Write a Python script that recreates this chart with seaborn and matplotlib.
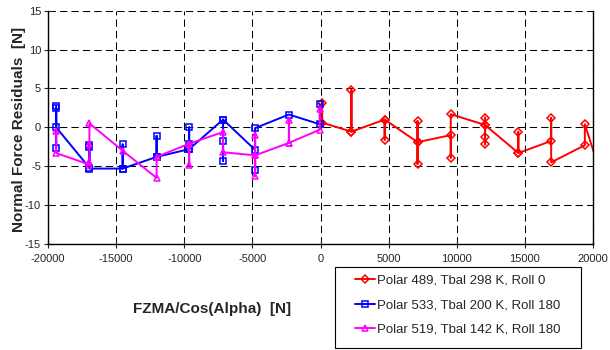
import matplotlib
matplotlib.use("Agg")
import matplotlib.pyplot as plt
import seaborn as sns
from matplotlib.patches import Rectangle

# Polar 489 (red) - points in plotting order
red_x = [125, 125,
         2270, 2270, 2270,
         4710, 4710, 4710,
         7120, 7120, 7120, 7120,
         9560, 9560, 9560,
         12080, 12080, 12080, 12080, 12080,
         14520, 14520, 14520,
         16930, 16930, 16930,
         19400, 19400,
         21850]
red_y = [3.1, 0.6,
         -0.55, 4.8, -0.55,
         1.0, -1.6, 1.0,
         -1.9, 0.8, -4.7, -1.9,
         -1.0, -3.9, 1.7,
         0.3, 1.25, -2.2, -1.3, 0.3,
         -3.3, -0.6, -3.3,
         -1.75, 1.2, -4.5,
         -2.3, 0.4,
         -13.0]

# Polar 533 (blue)
blue_x = [-19400, -19400, -19400, -19400,
          -16960, -16960, -16960, -16960,
          -14520, -14520, -14520,
          -12030, -12030, -12030,
          -9640, -9640, -9640, -9640,
          -7150, -7150, -7150, -7150,
          -4800, -4800, -4800,
          -2320,
          -50, -50]
blue_y = [2.8, -2.6, 2.5, 0.0,
          -5.2, -2.3, -2.5, -5.3,
          -5.3, -2.2, -5.3,
          -3.8, -1.1, -3.8,
          -2.8, 0.0, -2.2, -2.8,
          1.0, -1.75, -4.3, 1.0,
          -2.9, -5.5, -0.1,
          1.65,
          0.4, 3.0]

# Polar 519 (magenta)
mag_x = [-19400, -19400,
         -16960, -16960, -16960, -16960,
         -14520,
         -12030, -12030,
         -9640, -9640, -9640,
         -7150, -7150,
         -4800, -4800, -4800, -4800,
         -2320, -2320, -2320,
         -50, -50]
mag_y = [-0.5, -3.3,
         -4.8, -4.5, -2.2, 0.5,
         -3.0,
         -6.5, -3.8,
         -2.1, -4.9, -2.1,
         -0.6, -3.2,
         -3.6, -1.0, -6.3, -3.6,
         -2.0, 1.0, -2.0,
         -0.3, 2.3]

series_names = ["Polar 489, Tbal 298 K, Roll 0",
                "Polar 533, Tbal 200 K, Roll 180",
                "Polar 519, Tbal 142 K, Roll 180"]
x_ticks = list(range(-20000, 20001, 5000))
y_ticks = list(range(-15, 16, 5))

sns.set_style("ticks")
plt.rcParams['font.family'] = ['Liberation Sans', 'DejaVu Sans']
plt.rcParams['axes.unicode_minus'] = False

fig = plt.figure(figsize=(6.1, 3.5), dpi=100)
ax = fig.add_axes([48 / 610, 1 - 244 / 350, 545 / 610, 233.3 / 350])

styles = [(red_x, red_y, '#FF0000', 'D', 4.0),
          (blue_x, blue_y, '#0000FF', 's', 4.5),
          (mag_x, mag_y, '#FF00FF', '^', 5.0)]
for (xs, ys, col, mk, size), name in zip(styles, series_names):
    sns.lineplot(x=xs, y=ys, ax=ax, sort=False, estimator=None, color=col,
                 marker=mk, ms=size, mfc='none', mec=col, mew=1.1, lw=1.4,
                 label=name)

ax.set_xlim(-20000, 20000)
ax.set_ylim(-15, 15)
ax.set_xticks(x_ticks)
ax.set_xticklabels([str(v) for v in x_ticks])
ax.set_yticks(y_ticks)
ax.set_yticklabels([str(v) for v in y_ticks])
ax.tick_params(axis='x', direction='inout', length=6, width=0.8, labelsize=8, pad=4)
ax.tick_params(axis='y', direction='inout', length=6, width=0.8, labelsize=8, pad=2)
ax.grid(True, color='black', lw=0.75, linestyle=(0, (7, 4)))
ax.set_axisbelow(True)
ax.spines['top'].set_visible(False)
for s in ['left', 'bottom', 'right']:
    ax.spines[s].set_color('black')
    ax.spines[s].set_linewidth(1.0)
ax.set_xlabel('')
ax.set_ylabel('')

fig.text(19 / 610, 1 - 129 / 350, 'Normal Force Residuals  [N]', rotation=90,
         ha='center', va='center', fontsize=11, fontweight='bold')
fig.text(212 / 610, 1 - 309 / 350, 'FZMA/Cos(Alpha)  [N]',
         ha='center', va='center', fontsize=11, fontweight='bold')

ax.legend(loc='upper left', bbox_to_anchor=(355 / 610, 1 - 274.4 / 350),
          bbox_transform=fig.transFigure, frameon=False, fontsize=9.5,
          borderpad=0, borderaxespad=0, handlelength=1.5, handletextpad=0.15,
          labelspacing=0.93)
fig.add_artist(Rectangle((335 / 610, 1 - 348 / 350), 246 / 610, 81 / 350,
                         transform=fig.transFigure, fill=False, ec='black', lw=0.8))

fig.savefig('out.png', dpi=100)
